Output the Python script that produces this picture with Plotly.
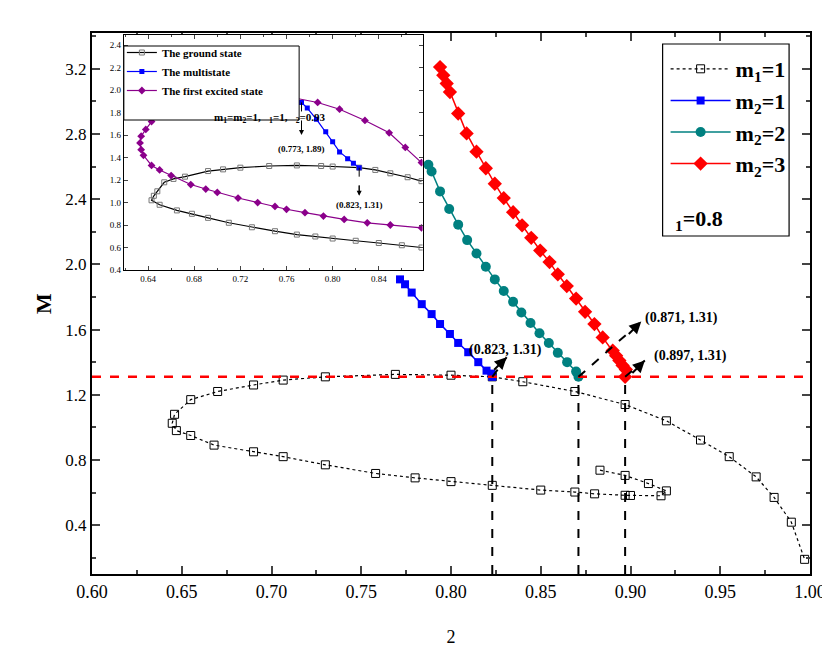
import plotly.graph_objects as go

# main ground state (m1=1)
gs_x = [0.883,0.897,0.910,0.920,0.917,0.900,0.897,0.880,0.869,0.850,0.823,0.800,0.780,0.758,0.730,0.7065,0.690,0.668,0.655,0.647,0.6447,0.646,0.655,0.670,0.690,0.7065,0.730,0.769,0.800,0.823,0.840,0.869,0.897,0.920,0.939,0.955,0.970,0.980,0.9896,0.997]
gs_y = [0.737,0.705,0.655,0.610,0.580,0.582,0.583,0.592,0.603,0.615,0.644,0.667,0.690,0.717,0.770,0.820,0.850,0.891,0.950,0.980,1.025,1.080,1.170,1.220,1.260,1.290,1.310,1.325,1.320,1.310,1.280,1.220,1.140,1.040,0.922,0.820,0.696,0.570,0.418,0.190]
b_x = [0.7716,0.7744,0.7781,0.7837,0.7892,0.7939,0.7994,0.8040,0.8096,0.8152,0.8198,0.8225,0.823]
b_y = [1.908,1.878,1.827,1.756,1.695,1.634,1.573,1.518,1.461,1.400,1.348,1.330,1.310]
t_x = [0.7874,0.7892,0.7939,0.7990,0.8040,0.8090,0.8142,0.8194,0.8244,0.8294,0.8346,0.8392,0.8443,0.8493,0.8545,0.8595,0.8647,0.8697,0.871]
t_y = [2.611,2.570,2.448,2.340,2.244,2.149,2.067,1.986,1.908,1.837,1.770,1.705,1.640,1.577,1.518,1.457,1.400,1.342,1.310]
r_x = [0.7939,0.7957,0.7976,0.7994,0.8040,0.8087,0.8142,0.8194,0.8244,0.8294,0.8346,0.8396,0.8447,0.8497,0.8549,0.8595,0.8645,0.8697,0.8747,0.8799,0.8845,0.8901,0.8920,0.8938,0.8956,0.8974,0.897]
r_y = [3.211,3.160,3.110,3.058,2.926,2.804,2.692,2.590,2.495,2.407,2.320,2.240,2.163,2.085,2.014,1.939,1.867,1.790,1.709,1.634,1.552,1.471,1.440,1.410,1.380,1.355,1.310]

# inset
ig_x = [0.877,0.860,0.840,0.820,0.800,0.785,0.769,0.750,0.730,0.710,0.692,0.678,0.665,0.650,0.643,0.645,0.648,0.654,0.662,0.672,0.692,0.705,0.720,0.745,0.769,0.790,0.800,0.823,0.837,0.850,0.865,0.877]
ig_y = [0.600,0.620,0.640,0.660,0.680,0.698,0.715,0.745,0.780,0.820,0.864,0.900,0.930,0.980,1.020,1.060,1.100,1.180,1.210,1.230,1.280,1.295,1.310,1.325,1.330,1.325,1.320,1.310,1.290,1.260,1.225,1.190]
ip_x = [0.877,0.863,0.849,0.828,0.806,0.787,0.767,0.750,0.730,0.710,0.690,0.675,0.660,0.649,0.643,0.638,0.634,0.633,0.634,0.636,0.643,0.650,0.660,0.677,0.690,0.700,0.718,0.735,0.750,0.760,0.776,0.792,0.810,0.830,0.850,0.877]
ip_y = [1.355,1.490,1.620,1.730,1.830,1.890,1.930,1.955,1.970,1.965,1.930,1.890,1.840,1.770,1.720,1.650,1.590,1.530,1.470,1.420,1.330,1.290,1.240,1.160,1.120,1.090,1.040,1.000,0.965,0.940,0.910,0.880,0.850,0.820,0.800,0.775]
ib_x = [0.773,0.778,0.786,0.794,0.800,0.806,0.813,0.818,0.823]
ib_y = [1.890,1.840,1.740,1.630,1.540,1.450,1.390,1.350,1.310]

pts = [0.823, 0.871, 0.897]
M0 = 1.31

SERIF = "Liberation Serif"
fig = go.Figure()
fig.add_trace(go.Scatter(x=gs_x, y=gs_y, mode="lines+markers", name="<b>m<sub>1</sub>=1</b>",
    line=dict(color="black", width=1.2, dash="dot"),
    marker=dict(symbol="square-open", size=8, color="black", line=dict(width=1))))
fig.add_trace(go.Scatter(x=b_x, y=b_y, mode="lines+markers", name="<b>m<sub>2</sub>=1</b>",
    line=dict(color="#0000ff", width=1.5), marker=dict(symbol="square", size=8, color="#0000ff")))
fig.add_trace(go.Scatter(x=t_x, y=t_y, mode="lines+markers", name="<b>m<sub>2</sub>=2</b>",
    line=dict(color="#008080", width=1.5), marker=dict(symbol="circle", size=10, color="#008080")))
fig.add_trace(go.Scatter(x=r_x, y=r_y, mode="lines+markers", name="<b>m<sub>2</sub>=3</b>",
    line=dict(color="#ff0000", width=1.5), marker=dict(symbol="diamond", size=11, color="#ff0000")))

fig.add_trace(go.Scatter(x=ig_x, y=ig_y, xaxis="x2", yaxis="y2", mode="lines+markers", name="<b>The ground state</b>",
    legend="legend2", line=dict(color="black", width=1.2),
    marker=dict(symbol="square-open", size=5, color="#777", line=dict(width=1))))
fig.add_trace(go.Scatter(x=ib_x, y=ib_y, xaxis="x2", yaxis="y2", mode="lines+markers", name="<b>The multistate</b>",
    legend="legend2", line=dict(color="#0000ff", width=1.2), marker=dict(symbol="square", size=5, color="#0000ff")))
fig.add_trace(go.Scatter(x=ip_x, y=ip_y, xaxis="x2", yaxis="y2", mode="lines+markers", name="<b>The first excited state</b>",
    legend="legend2", line=dict(color="#8b008b", width=1.2), marker=dict(symbol="diamond", size=6, color="#8b008b")))

shapes = [dict(type="line", xref="x", yref="y", x0=0.6, x1=1.0, y0=M0, y1=M0,
               line=dict(color="red", width=2.5, dash="dash"))]
for p in pts:
    shapes.append(dict(type="line", xref="x", yref="y", x0=p, x1=p, y0=0.1, y1=M0,
                       line=dict(color="black", width=2, dash="dash")))
heads = [(0.831, 1.43), (0.906, 1.65), (0.908, 1.41)]
for p, (hx, hy) in zip(pts, heads):
    shapes.append(dict(type="line", xref="x", yref="y", x0=p, x1=hx, y0=M0, y1=hy,
                       line=dict(color="black", width=2, dash="dash")))
shapes.append(dict(type="line", xref="x2", yref="y2", x0=0.773, x1=0.773, y0=1.89, y1=1.62,
                   line=dict(color="black", width=1, dash="dash")))
shapes.append(dict(type="line", xref="x2", yref="y2", x0=0.823, x1=0.823, y0=1.31, y1=1.08,
                   line=dict(color="black", width=1, dash="dash")))
shapes.append(dict(type="rect", xref="paper", yref="paper", x0=(657-84)/721, x1=(784-84)/721,
                   y0=(566-228)/541, y1=(566-36)/541, line=dict(color="black", width=1.2), fillcolor="white", layer="below"))
shapes.append(dict(type="rect", xref="paper", yref="paper", x0=(116-84)/721, x1=(292-84)/721,
                   y0=(566-112)/541, y1=(566-38)/541, line=dict(color="black", width=1), fillcolor="white", layer="above"))

ann = []
for (hx, hy) in heads:
    ann.append(dict(x=hx, y=hy, xref="x", yref="y", ax=-14, ay=14, text="", showarrow=True,
                    arrowhead=2, arrowsize=1.2, arrowwidth=2, arrowcolor="black"))
for txt, tx, ty in [("(0.823, 1.31)", 0.809, 1.477), ("(0.871, 1.31)", 0.907, 1.67), ("(0.897, 1.31)", 0.912, 1.44)]:
    ann.append(dict(x=tx, y=ty, xref="x", yref="y", text="<b>%s</b>" % txt, showarrow=False, xanchor="left",
                    font=dict(family=SERIF, size=14, color="black")))
ann.append(dict(x=0.773, y=1.60, xref="x2", yref="y2", ax=0, ay=-12, text="", showarrow=True,
                arrowhead=2, arrowwidth=1, arrowcolor="black"))
ann.append(dict(x=0.823, y=1.06, xref="x2", yref="y2", ax=0, ay=-12, text="", showarrow=True,
                arrowhead=2, arrowwidth=1, arrowcolor="black"))
ann.append(dict(x=0.773, y=1.48, xref="x2", yref="y2", text="<b>(0.773, 1.89)</b>", showarrow=False,
                font=dict(family=SERIF, size=9, color="black")))
ann.append(dict(x=0.823, y=0.98, xref="x2", yref="y2", text="<b>(0.823, 1.31)</b>", showarrow=False,
                font=dict(family=SERIF, size=9, color="black")))
ann.append(dict(x=(204-84)/721, y=(566-101)/541, xref="paper", yref="paper",
                text="<b>m<sub>1</sub>=m<sub>2</sub>=1,   <sub>1</sub>=1,   <sub>2</sub>=0.93</b>", showarrow=False,
                font=dict(family=SERIF, size=11, color="black")))
ann.append(dict(x=(720-84)/721, y=(566-212)/541, xref="paper", yref="paper",
                text="<b><sub>1</sub>=0.8</b>", showarrow=False, font=dict(family=SERIF, size=22, color="black")))

axcommon = dict(showline=True, linecolor="black", mirror="ticks", ticks="inside", showgrid=False, zeroline=False)
fig.update_layout(
    width=830, height=648, margin=dict(l=84, r=25, t=25, b=82),
    plot_bgcolor="white", paper_bgcolor="white",
    xaxis=dict(range=[0.6, 1.0], dtick=0.05, tickformat=".2f", linewidth=2, ticklen=8, tickwidth=1.5,
               minor=dict(dtick=0.025, ticks="inside", ticklen=4), tickfont=dict(family=SERIF, size=18, color="black"),
               title=dict(text="2", font=dict(family=SERIF, size=18, color="black"), standoff=30), **axcommon),
    yaxis=dict(range=[0.1, 3.42], tickvals=[0.4,0.8,1.2,1.6,2.0,2.4,2.8,3.2], tickformat=".1f", linewidth=2, ticklen=8,
               tickwidth=1.5, minor=dict(dtick=0.2, ticks="inside", ticklen=4),
               tickfont=dict(family=SERIF, size=17, color="black"),
               title=dict(text="<b>M</b>", font=dict(family=SERIF, size=22, color="black"), standoff=8), **axcommon),
    xaxis2=dict(domain=[(116-84)/721, (416-84)/721], anchor="y2", range=[0.619, 0.878], dtick=0.04, tickformat=".2f",
                linewidth=1, ticklen=4, minor=dict(dtick=0.02, ticks="inside", ticklen=2),
                tickfont=dict(family=SERIF, size=9, color="black"), **axcommon),
    yaxis2=dict(domain=[(566-262)/541, (566-27)/541], anchor="x2", range=[0.4, 2.49], dtick=0.2, tickformat=".1f",
                linewidth=1, ticklen=4, tickfont=dict(family=SERIF, size=9, color="black"), **axcommon),
    legend=dict(x=(660-84)/721, y=(566-40)/541, xanchor="left", yanchor="top", bgcolor="rgba(0,0,0,0)",
                font=dict(family=SERIF, size=22, color="black"), itemwidth=60, tracegroupgap=0),
    legend2=dict(x=(114-84)/721, y=(566-30)/541, xanchor="left", yanchor="top", bgcolor="rgba(0,0,0,0)",
                 font=dict(family=SERIF, size=11, color="black"), itemwidth=30, tracegroupgap=0),
    shapes=shapes, annotations=ann, showlegend=True,
)
fig.write_html("out.html")
